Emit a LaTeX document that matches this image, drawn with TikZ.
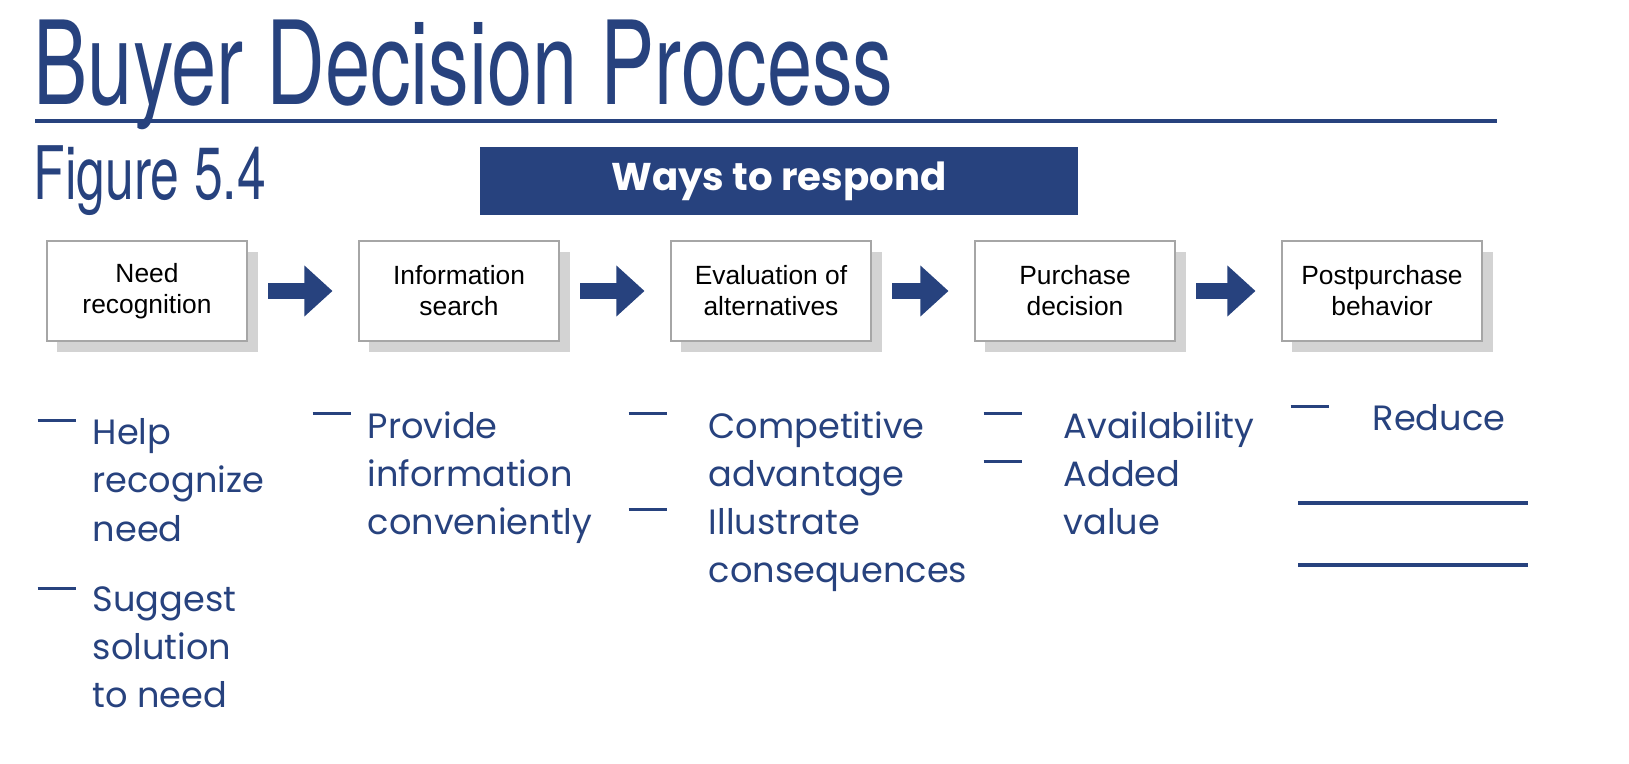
\documentclass[tikz,border=0pt]{standalone}
\usepackage{fontspec}
\setmainfont{Poppins}
\newfontfamily\boxfont{Liberation Sans}
\newfontfamily\headfont{TeX Gyre Heros}
\usetikzlibrary{positioning,shadows,arrows.meta}
\definecolor{navy}{HTML}{27427E}
\newcommand{\dashmark}{\rule[0.32em]{1.1em}{0.9pt}}
\begin{document}
\begin{tikzpicture}[x=0.01cm,y=-0.01cm,
    stage/.style={draw=gray!70,line width=0.8pt,fill=white,minimum width=2cm,minimum height=1cm,
        align=center,font=\boxfont\fontsize{7.5}{8.8}\selectfont,
        drop shadow={shadow xshift=3pt,shadow yshift=-3pt,opacity=0.35}},
    flow/.style={-{Triangle[length=8pt,width=14pt]},navy,line width=4.5pt},
    item/.style={anchor=north west,align=left,text=navy,inner sep=0pt,
        font=\fontsize{10}{13.7}\selectfont},
    gap/.style={navy,line width=1.2pt}]
  \useasboundingbox (0,0) rectangle (1629,764);
  % heading
  \node[anchor=base west,inner sep=0pt,text=navy] (title) at (33,105)
     {\headfont\scalebox{0.7}[1]{\fontsize{33}{36}\selectfont Buyer Decision Process}};
  \draw[navy,line width=1.3pt] (35,121) -- (1497,121);
  \node[anchor=base west,inner sep=0pt,text=navy] (fig) at (33,200)
     {\headfont\scalebox{0.7}[1]{\fontsize{21}{24}\selectfont Figure 5.4}};
  \node[fill=navy,text=white,minimum width=5.98cm,minimum height=0.68cm,
     font=\bfseries\fontsize{11}{12}\selectfont] (ways) at (779,181) {Ways to respond};
  % stages
  \node[stage] (need) at (147,291) {Need\\recognition};
  \node[stage] (info) at (459,291) {Information\\search};
  \node[stage] (eval) at (771,291) {Evaluation of\\alternatives};
  \node[stage] (buy)  at (1075,291) {Purchase\\decision};
  \node[stage] (post) at (1382,291) {Postpurchase\\behavior};
  \foreach \a/\b in {need/info,info/eval,eval/buy,buy/post}
    \draw[flow] ([xshift=0.2cm]\a.east) -- ([xshift=-0.25cm]\b.west);
  % ways to respond
  \node[item] (d1) at (37,418) {\dashmark};
  \node[item] (t1) at (92,418) {Help\\recognize\\need};
  \node[item] (d2) at (37,586) {\dashmark};
  \node[item] (t2) at (92,586) {Suggest\\solution\\to need};
  \node[item] (d3) at (312,411) {\dashmark};
  \node[item] (t3) at (367,411) {Provide\\information\\conveniently};
  \node[item] (d4) at (628,411) {\dashmark};
  \node[item] (t4) at (708,411) {Competitive\\advantage\\Illustrate\\consequences};
  \node[item] (d5) at (628,507) {\dashmark};
  \node[item] (d6) at (983,411) {\dashmark};
  \node[item] (t6) at (1063,411) {Availability\\Added\\value};
  \node[item] (d7) at (983,459) {\dashmark};
  \node[item] (d8) at (1290,404) {\dashmark};
  \node[item] (t8) at (1372,404) {Reduce};
  \coordinate (g1a) at (1298,503); \coordinate (g1b) at (1528,503);
  \coordinate (g2a) at (1298,565); \coordinate (g2b) at (1528,565);
  \draw[gap] (g1a) -- (g1b);
  \draw[gap] (g2a) -- (g2b);
\end{tikzpicture}
\end{document}
